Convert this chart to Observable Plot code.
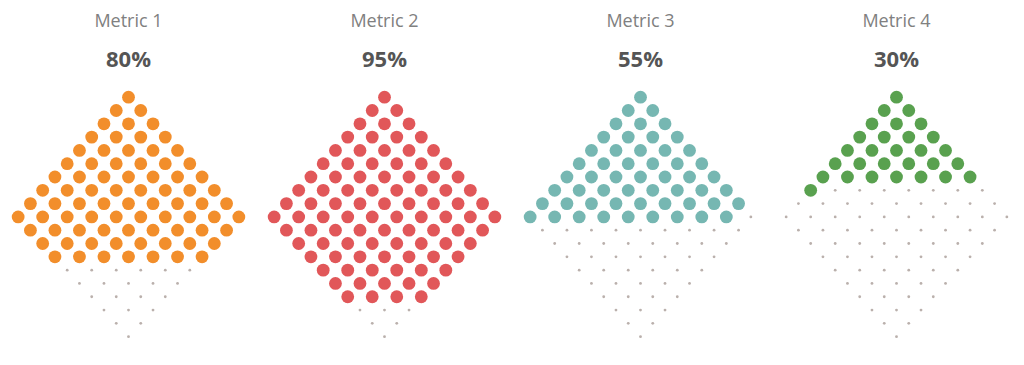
<!DOCTYPE html>
<html>
<head>
<meta charset="utf-8">
<script src="https://cdn.jsdelivr.net/npm/d3@7"></script>
<script src="https://cdn.jsdelivr.net/npm/@observablehq/plot@0.6"></script>
<style>
  html, body { margin: 0; padding: 0; background: #fff; }
  #chart { width: 1024px; height: 365px; }
</style>
</head>
<body>
<div id="chart"></div>
<script>
const metrics = ["Metric 1", "Metric 2", "Metric 3", "Metric 4"];
const percents = [80, 95, 55, 30];
const colors = ["#f28e2b", "#e15759", "#76b7b2", "#59a14f"];
const side = 10; // 10 x 10 grid rotated into a diamond = 100 dots

// Build diamond dot positions, row by row (top to bottom), left to right
const dots = [];
metrics.forEach((m, i) => {
  let k = 0;
  for (let r = 0; r < 2 * side - 1; r++) {
    const count = r < side ? r + 1 : 2 * side - 1 - r;
    for (let j = 0; j < count; j++) {
      k++;
      dots.push({
        metric: m,
        row: r,
        col: 2 * j - (count - 1),
        filled: k < percents[i]
      });
    }
  }
});

const labels = metrics.map((m, i) => ({metric: m, pct: percents[i] + "%"}));

const chart = Plot.plot({
  width: 1024,
  height: 365,
  margin: 0,
  style: {fontFamily: "'Open Sans', sans-serif", background: "#fff"},
  fx: {domain: metrics, padding: 0, axis: null},
  x: {domain: [-10.44, 10.44], axis: null},
  y: {domain: [-7.27, 20.17], reverse: true, axis: null},
  color: {domain: metrics, range: colors},
  marks: [
    Plot.dot(dots.filter(d => !d.filled), {fx: "metric", x: "col", y: "row", r: 1.4, fill: "#bab0ac"}),
    Plot.dot(dots.filter(d => d.filled), {fx: "metric", x: "col", y: "row", r: 6.4, fill: "metric"}),
    Plot.text(labels, {fx: "metric", text: "metric", frameAnchor: "top", lineAnchor: "middle", dy: 21, fontSize: 18, fill: "#808080"}),
    Plot.text(labels, {fx: "metric", text: "pct", frameAnchor: "top", lineAnchor: "middle", dy: 59.5, fontSize: 22, fontWeight: "bold", fill: "#555555"})
  ]
});
document.getElementById("chart").appendChild(chart);
</script>
</body>
</html>
